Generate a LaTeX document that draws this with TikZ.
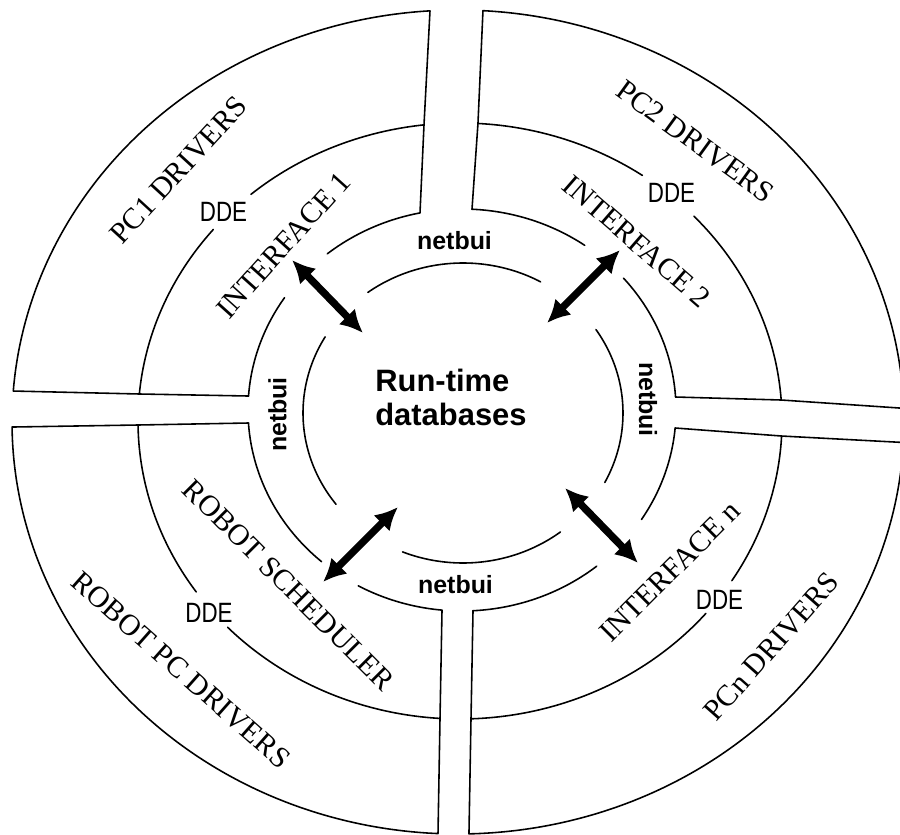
\documentclass[tikz,border=0pt]{standalone}
\usepackage{fontspec}
\usepackage{graphicx}
\setmainfont{Liberation Serif}
\newfontfamily\labelsans{Liberation Sans}
\usetikzlibrary{arrows.meta}

\begin{document}
\begin{tikzpicture}[x=0.02cm,y=-0.02cm,
  ring/.style={line width=0.9pt, line join=round, line cap=round},
  layer/.style={font=\fontsize{17}{20}\selectfont, inner sep=0pt},
  ddelabel/.style={font=\labelsans\fontsize{15.9}{18}\selectfont, inner sep=0pt},
  netlabel/.style={font=\labelsans\bfseries\fontsize{14.2}{17}\selectfont, inner sep=0pt},
  dbtext/.style={font=\labelsans\bfseries\fontsize{17.6}{19.8}\selectfont, inner sep=0pt, align=left},
  link/.style={line width=4.2pt, {Latex[length=13pt,width=13pt]}-{Latex[length=13pt,width=13pt]}}
]
\useasboundingbox (0,0) rectangle (900,835);
\clip (0,0) rectangle (900,835);

% Rings (pixel units, y pointing down), point at angle t:
% A outer rim   (458+446cos t, 422-412sin t)
% B DDE ring    (460+322cos t, 421-298sin t)
% C netbui ring (462+214cos t, 410-201sin t)
% D inner ring  (463+160cos t, 413-150sin t)

% quadrant outlines: corners where the rings meet the gaps
\foreach \q/\ca/\cb/\aa/\ab/\ba/\bb/\cc in {
    tl/101.32/96.42/93.60/175.69/174.80/176.01/0,
    tr/3.708/4.04/1.905/86.79/86.80/87.32/0,
    bl/183.71/180.77/180.70/267.43/266.44/264.64/0,
    br/272.95/271.96/271.41/357.15/357.11/354.86/0}{
  \draw[ring] ({462+214*cos(\ca)},{410-201*sin(\ca)})
    -- ({460+322*cos(\cb)},{421-298*sin(\cb)})
    -- plot[domain=\aa:\ab,samples=120,variable=\t] ({458+446*cos(\t)},{422-412*sin(\t)})
    -- ({460+322*cos(\ba)},{421-298*sin(\ba)})
    -- ({462+214*cos(\bb)},{410-201*sin(\bb)});
}

% DDE ring, open where the DDE labels sit
\foreach \a/\b in {96.42/130.5, 140/174.80, 4.04/43.4, 55.5/86.80,
                   180.77/215, 223.8/266.44, 271.96/319.8, 327.6/357.11}
  \draw[ring] plot[domain=\a:\b,samples=90,variable=\t] ({460+322*cos(\t)},{421-298*sin(\t)});

% inner edge of the interface ring, open for the links
\foreach \a/\b in {101.32/129, 146/176.01, 3.708/41, 55/87.32,
                   183.71/229, 241/264.64, 272.95/309, 327/354.86}
  \draw[ring] plot[domain=\a:\b,samples=60,variable=\t] ({462+214*cos(\t)},{410-201*sin(\t)});

% innermost ring around the databases
\foreach \a/\b in {61/126.5, 149.5/217.5, 247.8/307.5, 332.4/393.8}
  \draw[ring] plot[domain=\a:\b,samples=60,variable=\t] ({463+160*cos(\t)},{413-150*sin(\t)});

% layer labels
\node[layer, rotate=47.5]  (pc1) at (178.5,170) {PC1 DRIVERS};
\node[layer, rotate=48]    (if1) at (283.5,245) {INTERFACE 1};
\node[layer, rotate=-36]   (pc2) at (695.5,141.5) {PC2 DRIVERS};
\node[layer, rotate=-41]   (if2) at (636.5,241.5) {INTERFACE 2};
\node[layer, rotate=-45]   (rs)  at (288.5,585) {ROBOT SCHEDULER};
\node[layer, rotate=-41.5] (rpc) at (181,670) {ROBOT PC DRIVERS};
\node[layer, rotate=45]    (ifn) at (670,571.5) {INTERFACE n};
\node[layer, rotate=48.5]  (pcn) at (771.5,646.5) {PCn DRIVERS};

% protocol labels
\node[ddelabel] (dde1) at (223.5,212) {\scalebox{0.8}[1]{DDE}};
\node[ddelabel] (dde2) at (671.5,192.5) {\scalebox{0.8}[1]{DDE}};
\node[ddelabel] (dde3) at (209,612.5) {\scalebox{0.8}[1]{DDE}};
\node[ddelabel] (dde4) at (719.5,599.5) {\scalebox{0.8}[1]{DDE}};

\node[netlabel] (nb1) at (454.5,240.5) {netbui};
\node[netlabel] (nb2) at (455.5,585) {netbui};
\node[netlabel, rotate=90]  (nb3) at (277.5,414.5) {netbui};
\node[netlabel, rotate=-90] (nb4) at (648,399.5) {netbui};

% central databases
\node[dbtext, anchor=west] (db) at (375,397.5) {Run-time\\databases};

% links between the interfaces and the databases
\coordinate (l1a) at (292,260);  \coordinate (l1b) at (363,333);
\coordinate (l2a) at (620,250);  \coordinate (l2b) at (547,323);
\coordinate (l3a) at (398,507);  \coordinate (l3b) at (323,582);
\coordinate (l4a) at (565,488);  \coordinate (l4b) at (638,563);
\draw[link] (l1a) -- (l1b);
\draw[link] (l2a) -- (l2b);
\draw[link] (l3a) -- (l3b);
\draw[link] (l4a) -- (l4b);
\end{tikzpicture}
\end{document}
